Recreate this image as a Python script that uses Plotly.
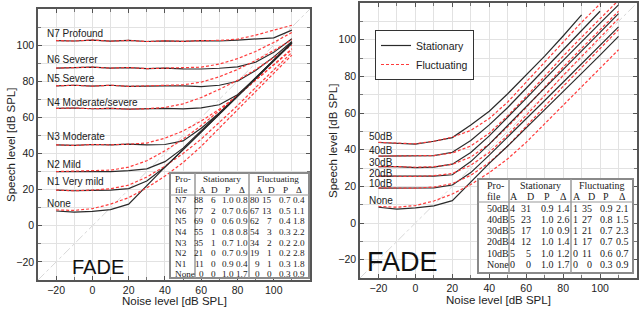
import plotly.graph_objects as go

W, H = 640, 311

# ---------------- data ----------------
noise_levels = [-20, -10, 0, 10, 20, 30, 40, 50, 60, 70, 80, 90, 100, 110]

# Left panel: hearing-loss profiles N1..N7
left_labels = ["N7 Profound", "N6 Severer", "N5 Severe", "N4 Moderate/severe",
               "N3 Moderate", "N2 Mild", "N1 Very mild", "None"]
stat_n7 = [102.5, 102.3, 102.8, 102.2, 102.6, 102.0, 102.4, 102.1, 102.5, 102.3, 102.8, 103.3, 104.0, 108.3]
stat_n6 = [87.3, 87.5, 87.8, 87.3, 87.6, 87.0, 87.3, 86.9, 86.8, 87.2, 88.0, 90.5, 96.0, 103.5]
stat_n5 = [77.5, 77.8, 77.3, 77.8, 77.2, 77.5, 77.4, 77.5, 77.0, 77.8, 80.0, 86.0, 93.5, 102.0]
stat_n4 = [65.0, 65.2, 64.8, 65.0, 64.6, 64.8, 65.0, 64.7, 65.3, 67.0, 72.5, 81.5, 91.5, 101.5]
stat_n3 = [44.8, 44.5, 45.0, 44.8, 45.2, 44.8, 45.0, 47.0, 54.0, 62.5, 72.0, 82.0, 92.0, 101.5]
stat_n2 = [30.0, 30.2, 30.0, 30.0, 30.5, 31.5, 35.5, 43.0, 52.5, 62.0, 72.0, 82.0, 91.8, 101.3]
stat_n1 = [19.8, 19.4, 19.6, 19.8, 20.6, 24.8, 32.5, 42.0, 52.0, 61.8, 71.8, 81.8, 91.7, 101.2]
stat_none = [8.2, 7.6, 8.0, 9.0, 12.0, 22.5, 32.5, 42.0, 51.8, 61.6, 71.6, 81.6, 91.5, 101.0]

fluc_n7 = [102.5, 102.3, 102.8, 102.2, 102.6, 102.0, 102.4, 102.1, 102.5, 102.6, 103.3, 105.5, 108.3, 111.0]
fluc_n6 = [87.3, 87.5, 87.8, 87.3, 87.6, 87.0, 87.3, 87.3, 87.8, 89.5, 92.5, 96.5, 101.5, 107.0]
fluc_n5 = [77.5, 77.8, 77.3, 77.8, 77.2, 77.5, 77.4, 78.0, 79.5, 82.5, 86.5, 91.5, 97.0, 103.0]
fluc_n4 = [65.0, 65.2, 64.8, 65.0, 64.6, 64.8, 65.5, 67.5, 71.0, 75.5, 80.5, 86.5, 93.0, 100.0]
fluc_n3 = [44.8, 44.5, 45.0, 44.8, 45.2, 45.8, 48.5, 52.5, 58.0, 64.5, 72.0, 80.5, 89.0, 98.0]
fluc_n2 = [30.0, 30.2, 30.2, 30.8, 32.5, 36.0, 41.5, 48.0, 55.5, 63.5, 72.0, 80.5, 89.0, 97.5]
fluc_n1 = [19.8, 19.4, 19.8, 20.5, 22.5, 27.0, 33.0, 40.0, 48.0, 57.0, 66.5, 76.5, 86.5, 96.0]
fluc_none = [8.8, 8.5, 9.5, 12.0, 15.6, 21.0, 27.5, 35.0, 44.0, 54.0, 64.5, 74.5, 84.5, 94.5]

# Right panel: profiles 10dB..50dB
right_labels = ["50dB", "40dB", "30dB", "20dB", "10dB", "None"]
r_stat_50 = [43.9, 43.6, 43.0, 44.6, 46.6, 53.5, 61.0, 70.5, 80.5, 91.0, 102.0, 113.5]
r_stat_40 = [36.5, 36.5, 36.4, 36.8, 38.6, 45.0, 53.5, 63.0, 73.5, 84.0, 94.5, 105.0, 115.5]
r_stat_30 = [30.7, 30.8, 30.2, 30.5, 32.1, 38.5, 47.5, 57.5, 68.0, 78.5, 88.8, 99.0, 109.0, 119.0]
r_stat_20 = [25.6, 25.5, 25.3, 25.6, 26.3, 33.5, 43.0, 53.0, 63.5, 73.6, 83.6, 93.8, 104.0, 114.2]
r_stat_10 = [19.0, 19.0, 18.8, 19.2, 20.7, 27.5, 37.0, 46.8, 56.8, 66.8, 76.8, 86.8, 96.9, 107.0]
r_stat_none = [8.6, 7.6, 8.2, 9.3, 12.2, 22.5, 32.5, 42.0, 51.8, 61.6, 71.6, 81.6, 91.6, 101.8]

r_fluc_50 = [44.0, 43.6, 43.2, 44.6, 46.8, 50.5, 57.0, 66.0, 77.0, 88.0, 99.0, 109.5, 119.5]
r_fluc_40 = [36.5, 36.5, 36.4, 36.8, 38.2, 42.0, 49.0, 58.5, 69.0, 80.0, 91.0, 101.3, 111.5, 121.5]
r_fluc_30 = [30.7, 30.8, 30.4, 30.7, 32.0, 36.0, 43.0, 52.5, 63.0, 74.0, 85.0, 95.3, 105.5, 115.5]
r_fluc_20 = [25.6, 25.5, 25.4, 25.8, 27.0, 31.5, 38.5, 48.0, 58.5, 69.5, 80.5, 91.0, 101.3, 111.5]
r_fluc_10 = [19.2, 19.0, 19.0, 19.6, 21.5, 26.0, 33.0, 42.0, 52.5, 63.5, 74.5, 85.0, 95.3, 105.5]
r_fluc_none = [9.0, 8.6, 9.5, 12.0, 15.8, 21.0, 27.5, 35.0, 44.0, 54.0, 64.5, 74.5, 84.5, 94.5]

# Tables
left_profiles = ["N7", "N6", "N5", "N4", "N3", "N2", "N1", "None"]
left_stat_A = [88, 77, 69, 55, 35, 21, 11, 0]
left_stat_D = [6, 2, 0, 1, 1, 0, 0, 0]
left_stat_P = [1.0, 0.7, 0.6, 0.8, 0.7, 0.7, 0.9, 1.0]
left_stat_Delta = [0.8, 0.6, 0.9, 0.8, 1.0, 0.9, 0.4, 1.7]
left_fluc_A = [80, 67, 62, 54, 34, 19, 9, 0]
left_fluc_D = [15, 13, 7, 3, 2, 1, 1, 0]
left_fluc_P = [0.7, 0.5, 0.4, 0.3, 0.2, 0.2, 0.3, 0.3]
left_fluc_Delta = [0.4, 1.1, 1.8, 2.2, 2.0, 2.8, 1.8, 0.9]

right_profiles = ["50dB", "40dB", "30dB", "20dB", "10dB", "None"]
right_stat_A = [4, 5, 5, 4, 5, 0]
right_stat_D = [31, 23, 17, 12, 5, 0]
right_stat_P = [0.9, 1.0, 1.0, 1.0, 1.0, 1.0]
right_stat_Delta = [1.4, 2.6, 0.9, 1.4, 1.2, 1.7]
right_fluc_A = [1, 1, 1, 1, 0, 0]
right_fluc_D = [35, 27, 21, 17, 11, 0]
right_fluc_P = [0.9, 0.8, 0.7, 0.7, 0.6, 0.3]
right_fluc_Delta = [2.1, 1.5, 2.3, 0.5, 0.7, 0.9]

# ---------------- styling helpers ----------------
STAT_COLOR = "#2a2a2a"
FLUC_COLOR = "#ff3b3b"
SANS = "Liberation Sans, Arial, sans-serif"
SERIF = "Liberation Serif, Times New Roman, serif"


def px_x(px):
    return px / W


def px_y(py):
    return 1 - py / H


fig = go.Figure()

left_stat = [stat_n7, stat_n6, stat_n5, stat_n4, stat_n3, stat_n2, stat_n1, stat_none]
left_fluc = [fluc_n7, fluc_n6, fluc_n5, fluc_n4, fluc_n3, fluc_n2, fluc_n1, fluc_none]
right_stat = [r_stat_50, r_stat_40, r_stat_30, r_stat_20, r_stat_10, r_stat_none]
right_fluc = [r_fluc_50, r_fluc_40, r_fluc_30, r_fluc_20, r_fluc_10, r_fluc_none]

first = True
for (xa, ya, stats, flucs) in [("x", "y", left_stat, left_fluc), ("x2", "y2", right_stat, right_fluc)]:
    for s, f in zip(stats, flucs):
        fig.add_trace(go.Scatter(x=noise_levels[:len(s)], y=s, mode="lines", xaxis=xa, yaxis=ya,
                                 line=dict(color=STAT_COLOR, width=1.2),
                                 name="Stationary", showlegend=first, legendrank=1))
        fig.add_trace(go.Scatter(x=noise_levels[:len(f)], y=f, mode="lines", xaxis=xa, yaxis=ya,
                                 line=dict(color=FLUC_COLOR, width=1.2, dash="3px,2px"),
                                 name="Fluctuating", showlegend=first, legendrank=2))
        first = False

# diagonal reference line y = x
for xr, yr in [("x", "y"), ("x2", "y2")]:
    fig.add_shape(type="line", xref=xr, yref=yr, x0=-30, y0=-30, x1=120, y1=120,
                  line=dict(color="#d8d8d8", width=1, dash="dashdot"), layer="below")

axis_common = dict(range=[-30, 120], tickvals=[-20, 0, 20, 40, 60, 80, 100],
                   automargin=False,
                   showgrid=True, gridcolor="#e2e2e2", gridwidth=1,
                   zeroline=False, showline=True, linecolor="#555", linewidth=1.5,
                   mirror="allticks", ticks="inside", ticklen=4, tickcolor="#555",
                   minor=dict(tickmode="linear", tick0=0, dtick=10, showgrid=True,
                              gridcolor="#e2e2e2", ticks="inside", ticklen=3, tickcolor="#777"),
                   tickfont=dict(family=SANS, size=10.5, color="#222"), fixedrange=True)

fig.update_layout(
    template="none",
    width=W, height=H, margin=dict(l=0, r=0, t=0, b=0, autoexpand=False),
    paper_bgcolor="white", plot_bgcolor="white",
    xaxis=dict(domain=[px_x(38), px_x(310)], anchor="y", **axis_common),
    yaxis=dict(domain=[px_y(280), px_y(9)], anchor="x", **axis_common),
    xaxis2=dict(domain=[px_x(360), px_x(637)], anchor="y2", **axis_common),
    yaxis2=dict(domain=[px_y(278), px_y(3)], anchor="x2", **axis_common),
    legend=dict(x=px_x(375), y=px_y(30), xanchor="left", yanchor="top",
                bgcolor="white", bordercolor="#333", borderwidth=1,
                font=dict(family=SANS, size=10.5, color="#222"), itemwidth=30,
                tracegroupgap=2),
    showlegend=True,
)

annotations = []

# Axis titles
for cx, cy in [(174, 301), (498, 300)]:
    annotations.append(dict(text="Noise level [dB SPL]", x=px_x(cx), y=px_y(cy), xref="paper", yref="paper",
                            showarrow=False, font=dict(family=SANS, size=11.5, color="#222"),
                            xanchor="center", yanchor="middle"))
for cx, cy in [(11, 145), (333, 141)]:
    annotations.append(dict(text="Speech level [dB SPL]", x=px_x(cx), y=px_y(cy), xref="paper", yref="paper",
                            showarrow=False, textangle=-90, font=dict(family=SANS, size=11.5, color="#222"),
                            xanchor="center", yanchor="middle"))

# FADE marks
annotations.append(dict(text="FADE", x=px_x(98), y=px_y(267), xref="paper", yref="paper", showarrow=False,
                        font=dict(family=SANS, size=20, color="#111"), xanchor="center", yanchor="middle"))
annotations.append(dict(text="FADE", x=px_x(402), y=px_y(262), xref="paper", yref="paper", showarrow=False,
                        font=dict(family=SANS, size=27, color="#111"), xanchor="center", yanchor="middle"))

# curve labels
left_label_y = [106.6, 91.9, 81.5, 68.3, 49.2, 34.1, 24.5, 12.5]
for lab, yy in zip(left_labels, left_label_y):
    annotations.append(dict(text=lab, x=-26, y=yy, xref="x", yref="y", showarrow=False,
                            font=dict(family=SANS, size=10, color="#222"), xanchor="left", yanchor="middle"))
right_label_y = [47.4, 39.8, 32.8, 27.1, 21.7, 12.2]
for lab, yy in zip(right_labels, right_label_y):
    annotations.append(dict(text=lab, x=-26.3, y=yy, xref="x2", yref="y2", showarrow=False,
                            font=dict(family=SANS, size=10, color="#222"), xanchor="left", yanchor="middle"))

shapes = []


def add_table(box, vlines, hline, prof_x, col_specs, head_y, row_y, fsize, groups,
              profiles, cols):
    x0, y0, x1, y1 = box
    shapes.append(dict(type="rect", xref="paper", yref="paper", x0=px_x(x0), x1=px_x(x1),
                       y0=px_y(y1), y1=px_y(y0), fillcolor="white",
                       line=dict(color="#8a8a8a", width=2), layer="above"))
    for vx in vlines:
        shapes.append(dict(type="line", xref="paper", yref="paper", x0=px_x(vx), x1=px_x(vx),
                           y0=px_y(y1), y1=px_y(y0), line=dict(color="#9a9a9a", width=1.5), layer="above"))
    shapes.append(dict(type="line", xref="paper", yref="paper", x0=px_x(x0), x1=px_x(x1),
                       y0=px_y(hline), y1=px_y(hline), line=dict(color="#9a9a9a", width=1.2), layer="above"))
    f = dict(family=SERIF, size=fsize, color="#222")
    annotations.append(dict(text="Pro-", x=px_x(prof_x), y=px_y(head_y[0]), xref="paper", yref="paper",
                            showarrow=False, font=f, xanchor="left", yanchor="middle"))
    annotations.append(dict(text="file", x=px_x(prof_x), y=px_y(head_y[1]), xref="paper", yref="paper",
                            showarrow=False, font=f, xanchor="left", yanchor="middle"))
    for gname, gx in groups:
        annotations.append(dict(text=gname, x=px_x(gx), y=px_y(head_y[0]), xref="paper", yref="paper",
                                showarrow=False, font=f, xanchor="center", yanchor="middle"))
    for (hname, cx, anchor) in col_specs:
        hx = cx if anchor == "center" else cx - fsize * 0.3
        annotations.append(dict(text=hname, x=px_x(hx), y=px_y(head_y[1]), xref="paper", yref="paper",
                                showarrow=False, font=f, xanchor="center", yanchor="middle"))
    for i, p in enumerate(profiles):
        annotations.append(dict(text=p, x=px_x(prof_x), y=px_y(row_y[i]), xref="paper", yref="paper",
                                showarrow=False, font=f, xanchor="left", yanchor="middle"))
        for (hname, cx, anchor), vals in zip(col_specs, cols):
            v = vals[i]
            txt = f"{v:.1f}" if isinstance(v, float) else str(v)
            annotations.append(dict(text=txt, x=px_x(cx), y=px_y(row_y[i]), xref="paper", yref="paper",
                                    showarrow=False, font=f, xanchor=anchor, yanchor="middle"))


left_row_y = [200.3 + 10.57 * i for i in range(8)]
add_table(box=(170, 173, 309, 278), vlines=[195, 249], hline=195, prof_x=172.5,
          col_specs=[("A", 205.5, "right"), ("D", 217.5, "right"), ("P", 227.5, "center"), ("Δ", 241.5, "center"),
                     ("A", 262, "right"), ("D", 274, "right"), ("P", 285, "center"), ("Δ", 299, "center")],
          head_y=(178.5, 189.5), row_y=left_row_y, fsize=9.2,
          groups=[("Stationary", 222), ("Fluctuating", 278)],
          profiles=left_profiles,
          cols=[left_stat_A, left_stat_D, left_stat_P, left_stat_Delta,
                left_fluc_A, left_fluc_D, left_fluc_P, left_fluc_Delta])

right_row_y = [208 + 11.3 * i for i in range(6)]
add_table(box=(478, 179, 633, 273), vlines=[509, 571], hline=202, prof_x=485,
          col_specs=[("A", 517, "right"), ("D", 533, "right"), ("P", 547, "center"), ("Δ", 563.5, "center"),
                     ("A", 580, "right"), ("D", 594, "right"), ("P", 606, "center"), ("Δ", 622, "center")],
          head_y=(185.5, 196.5), row_y=right_row_y, fsize=10,
          groups=[("Stationary", 540), ("Fluctuating", 602)],
          profiles=right_profiles,
          cols=[right_stat_A, right_stat_D, right_stat_P, right_stat_Delta,
                right_fluc_A, right_fluc_D, right_fluc_P, right_fluc_Delta])

fig.update_layout(annotations=annotations, shapes=list(fig.layout.shapes) + shapes)

fig.write_html("out.html", config={"displayModeBar": False},
               post_script="document.body.style.margin='0';document.body.style.overflow='hidden';")
